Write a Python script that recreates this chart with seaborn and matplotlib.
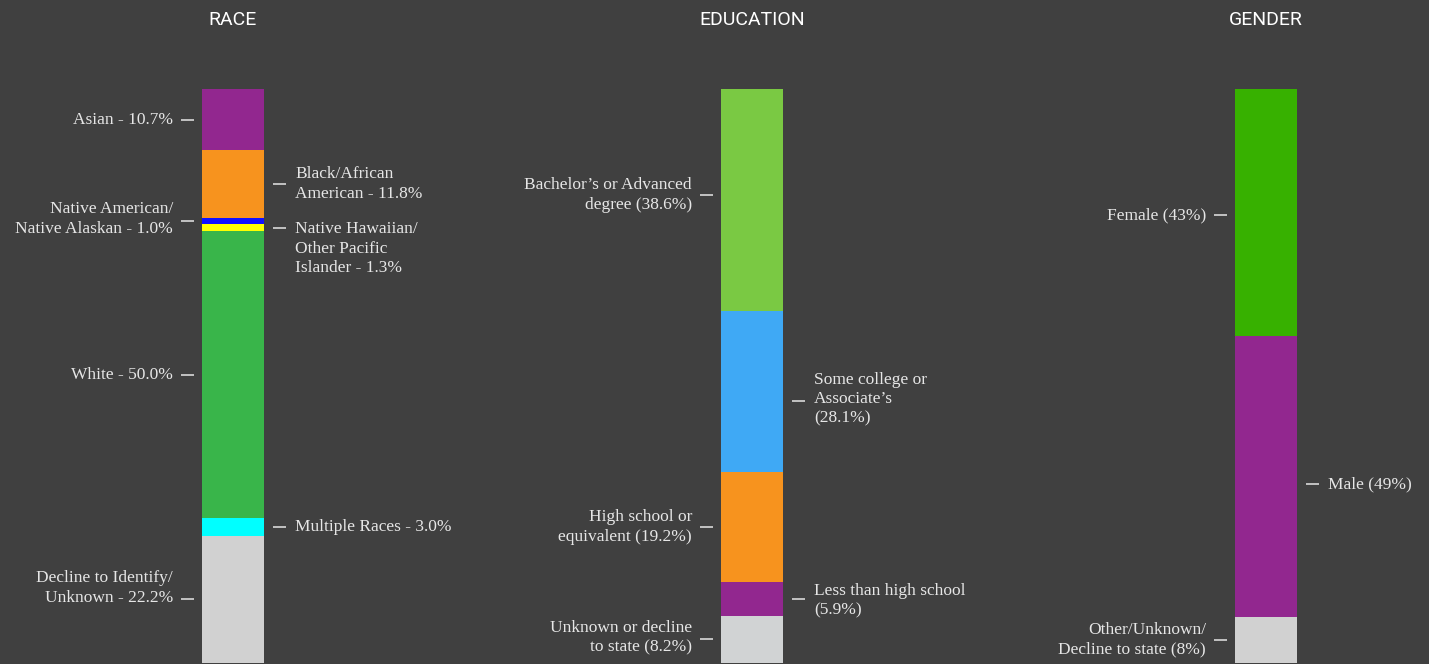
import matplotlib
matplotlib.use("Agg")
import matplotlib.pyplot as plt
import matplotlib.transforms as mtransforms
import seaborn as sns

# ---------------- data ----------------
group_titles = ["RACE", "EDUCATION", "GENDER"]

race_labels = ["Asian - 10.7%", "Black/African\nAmerican - 11.8%",
               "Native American/\nNative Alaskan - 1.0%",
               "Native Hawaiian/\nOther Pacific\nIslander - 1.3%",
               "White - 50.0%", "Multiple Races - 3.0%",
               "Decline to Identify/\nUnknown - 22.2%"]
race_values = [10.7, 11.8, 1.0, 1.3, 50.0, 3.0, 22.2]

edu_labels = ["Bachelor\u2019s or Advanced\ndegree (38.6%)",
              "Some college or\nAssociate\u2019s\n(28.1%)",
              "High school or\nequivalent (19.2%)",
              "Less than high school\n(5.9%)",
              "Unknown or decline\nto state (8.2%)"]
edu_values = [38.6, 28.1, 19.2, 5.9, 8.2]

gender_labels = ["Female (43%)", "Male (49%)",
                 "Other/Unknown/\nDecline to state (8%)"]
gender_values = [43, 49, 8]

# ---------------- styles / layout ----------------
race_colors = ["#92278f", "#f7931e", "#1010ff", "#ffff00", "#39b54a", "#00ffff", "#d1d1d1"]
edu_colors = ["#7ac943", "#3fa9f5", "#f7931e", "#92278f", "#d1d3d4"]
gender_colors = ["#37b100", "#92278f", "#d1d1d1"]

race_sides = ["L", "R", "L", "R", "L", "R", "L"]
edu_sides = ["L", "R", "L", "R", "L"]
gender_sides = ["L", "R", "L"]

# vertical tweaks in pixels (positive = down)
race_dash_dy = [0, 0, 0, 0, 0, 0, 0]
race_text_dy = [0, 0, -2, 21, 0, 0, -11]
edu_dash_dy = [-5, 10, 0, 0, 0]
edu_text_dy = [0, -2, 0, 2, -2]
gender_dash_dy = [3, 8, 0]
gender_text_dy = [0, 0, 0]

BG = "#404040"
TXT = "#e6e6e6"
W, H = 1429, 664
bar_lefts = [202, 721, 1235]
BAR_W = 62
TOP_PX, BOT_PX = 89, 663

sns.set_theme(style="dark")
plt.rcParams["figure.facecolor"] = BG
plt.rcParams["axes.facecolor"] = BG
plt.rcParams["savefig.facecolor"] = BG

fig = plt.figure(figsize=(W / 100, H / 100), dpi=100)

groups = [
    (race_labels, race_values, race_colors, race_sides, race_dash_dy, race_text_dy),
    (edu_labels, edu_values, edu_colors, edu_sides, edu_dash_dy, edu_text_dy),
    (gender_labels, gender_values, gender_colors, gender_sides, gender_dash_dy, gender_text_dy),
]

LABEL_FAMILY = ["Liberation Serif", "DejaVu Serif"]
LABEL_SIZE = 12.5

for gi, (labels, values, colors, sides, ddy, tdy) in enumerate(groups):
    left = bar_lefts[gi]
    ax = fig.add_axes([left / W, (H - BOT_PX) / H, BAR_W / W, (BOT_PX - TOP_PX) / H])
    ax.set_facecolor("none")
    cums = []
    c = 0
    for v in values:
        c += v
        cums.append(c)
    # draw from the largest cumulative down so each segment shows its slice
    for i in reversed(range(len(values))):
        sns.barplot(x=[group_titles[gi]], y=[cums[i]], color=colors[i],
                    saturation=1, width=1, linewidth=0, ax=ax)
    ax.set_xlim(-0.5, 0.5)
    ax.set_ylim(100, 0)
    ax.axis("off")

    blend = mtransforms.blended_transform_factory(mtransforms.IdentityTransform(), ax.transData)
    prev = 0
    for i, (lab, v) in enumerate(zip(labels, values)):
        mid = prev + v / 2
        prev += v
        if sides[i] == "L":
            dx0, dx1, tx, ha = left - 21, left - 8, left - 29, "right"
        else:
            r = left + BAR_W
            dx0, dx1, tx, ha = r + 9, r + 22, r + 31, "left"
        tr = blend + mtransforms.Affine2D().translate(0, -ddy[i])
        ax.plot([dx0, dx1], [mid, mid], transform=tr, color=TXT, lw=1.1,
                clip_on=False, solid_capstyle="butt")
        ax.annotate(lab, xy=(tx, mid), xycoords=blend,
                    xytext=(0, -(tdy[i] + ddy[i])), textcoords="offset pixels",
                    ha=ha, va="center", color=TXT, family=LABEL_FAMILY,
                    fontsize=LABEL_SIZE, linespacing=1.3,
                    annotation_clip=False, multialignment=ha)

    # title
    fig.text((left + BAR_W / 2) / W, 1 - 20 / H, group_titles[gi],
             ha="center", va="center", color="white", fontsize=14,
             family=["Roboto", "DejaVu Sans"])

fig.savefig("out.png", dpi=100, facecolor=BG)
